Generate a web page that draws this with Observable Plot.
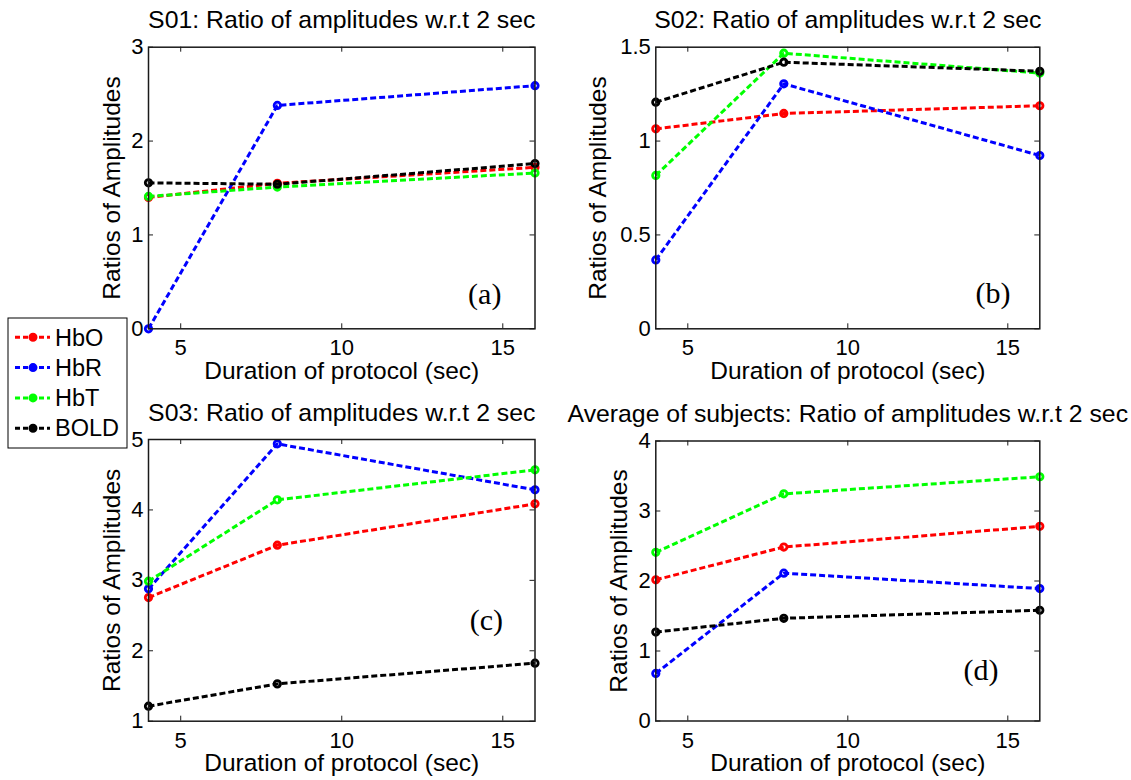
<!DOCTYPE html>
<html><head><meta charset="utf-8">
<script src="https://cdn.jsdelivr.net/npm/d3@7"></script>
<script src="https://cdn.jsdelivr.net/npm/@observablehq/plot@0.6"></script>
<style>
html,body{margin:0;padding:0;background:#fff;}
#chart{position:relative;width:1131px;height:780px;overflow:hidden;font-family:"Liberation Sans",Arial,sans-serif;}
#chart svg{position:absolute;}
</style></head><body><div id="chart"></div>
<script>
// ---- data ----
const durations = [4, 8, 16];
const seriesNames = ["HbO", "HbR", "HbT", "BOLD"];
const seriesColors = ["#ff0000", "#0000ff", "#00ff00", "#000000"];
const xTicks = [5, 10, 15];
// rows follow seriesNames order, columns follow durations
const s01Values = [[1.40, 1.55, 1.72], [0.00, 2.38, 2.59], [1.41, 1.51, 1.66], [1.555, 1.54, 1.76]];
const s02Values = [[1.065, 1.147, 1.188], [0.367, 1.305, 0.923], [0.817, 1.468, 1.362], [1.207, 1.420, 1.372]];
const s03Values = [[2.756, 3.499, 4.086], [2.879, 4.938, 4.285], [2.988, 4.143, 4.569], [1.213, 1.530, 1.824]];
const avgValues = [[2.017, 2.485, 2.781], [0.679, 2.112, 1.892], [2.409, 3.245, 3.489], [1.271, 1.467, 1.582]];
const panelTitles = [
  "S01: Ratio of amplitudes w.r.t 2 sec",
  "S02: Ratio of amplitudes w.r.t 2 sec",
  "S03: Ratio of amplitudes w.r.t 2 sec",
  "Average of subjects: Ratio of amplitudes w.r.t 2 sec"
];
const panelTags = ["(a)", "(b)", "(c)", "(d)"];
const yDomains = [[0, 3], [0, 1.5], [1, 5], [0, 4]];
const yTickValues = [[0, 1, 2, 3], [0, 0.5, 1, 1.5], [1, 2, 3, 4, 5], [0, 1, 2, 3, 4]];
const xLabel = "Duration of protocol (sec)";
const yLabel = "Ratios of Amplitudes";

// ---- layout (pixels) ----
const layouts = [
  {left: 0,   top: 0,   width: 560, height: 390, mL: 148,  mT: 46.7, mR: 25.5, mB: 61.7, yOff: 29,   tag: [14.44, 0.363]},
  {left: 560, top: 0,   width: 571, height: 390, mL: 95.3, mT: 46.7, mR: 91.7, mB: 61.7, yOff: 49.6, tag: [14.54, 0.19]},
  {left: 0,   top: 390, width: 560, height: 390, mL: 148,  mT: 49,   mR: 25.5, mB: 59.3, yOff: 29,   tag: [14.49, 2.43]},
  {left: 560, top: 390, width: 571, height: 390, mL: 95.3, mT: 50.5, mR: 91.7, mB: 59.5, yOff: 29,   tag: [14.16, 0.73]}
];
const allValues = [s01Values, s02Values, s03Values, avgValues];
const FONT = '"Liberation Sans", Arial, sans-serif';
const axisColor = "#1a1a1a";
const DASH = "6,3";

function makePanel(i) {
  const L = layouts[i];
  const values = allValues[i];
  const fw = L.width - L.mL - L.mR;
  const fh = L.height - L.mT - L.mB;
  const marks = [];
  // inward ticks
  marks.push(Plot.tickX(xTicks, {x: d => d, insetTop: fh - 5, stroke: axisColor}));
  marks.push(Plot.tickX(xTicks, {x: d => d, insetBottom: fh - 5, stroke: axisColor}));
  marks.push(Plot.tickY(yTickValues[i], {y: d => d, insetRight: fw - 5, stroke: axisColor}));
  marks.push(Plot.tickY(yTickValues[i], {y: d => d, insetLeft: fw - 5, stroke: axisColor}));
  marks.push(Plot.axisX({ticks: xTicks, tickSize: 0, tickPadding: 11, fontSize: 22, label: null, tickFormat: d => String(d)}));
  marks.push(Plot.axisY({ticks: yTickValues[i], tickSize: 0, tickPadding: 5, fontSize: 22, label: null, tickFormat: d => String(d)}));
  // series
  seriesNames.forEach((name, si) => {
    const rows = durations.map((d, di) => ({x: d, y: values[si][di]}));
    marks.push(Plot.line(rows, {x: "x", y: "y", stroke: seriesColors[si], strokeWidth: 3, strokeDasharray: DASH, strokeLinecap: "butt", strokeLinejoin: "miter"}));
    marks.push(Plot.dot(rows, {x: "x", y: "y", r: 3.2, stroke: seriesColors[si], strokeWidth: 2.8, fill: "none"}));
  });
  marks.push(Plot.frame({stroke: axisColor, strokeWidth: 1.5}));
  // texts
  marks.push(Plot.text([panelTitles[i]], {text: d => d, frameAnchor: "top", textAnchor: "middle", lineAnchor: "bottom", dy: -19, fontSize: 24.8, fill: "black"}));
  marks.push(Plot.text([xLabel], {text: d => d, frameAnchor: "bottom", textAnchor: "middle", lineAnchor: "bottom", dy: 50, fontSize: 24.5, fill: "black"}));
  marks.push(Plot.text([yLabel], {text: d => d, frameAnchor: "left", textAnchor: "middle", rotate: -90, lineAnchor: "bottom", dx: -L.yOff, fontSize: 24.5, fill: "black"}));
  marks.push(Plot.text([{x: L.tag[0], y: L.tag[1], t: panelTags[i]}], {x: "x", y: "y", text: "t", fontFamily: '"Liberation Serif", "Times New Roman", serif', fontSize: 30, fill: "black"}));

  const svg = Plot.plot({
    width: L.width, height: L.height,
    marginLeft: L.mL, marginTop: L.mT, marginRight: L.mR, marginBottom: L.mB,
    x: {domain: [4, 16]},
    y: {domain: yDomains[i]},
    style: {fontFamily: FONT, fontSize: "22px", background: "transparent", overflow: "visible", color: "black"},
    marks
  });
  // make sure the dashed pattern (with square dash ends) reaches every line path
  d3.select(svg).selectAll('g[aria-label="line"] path')
    .attr("stroke-dasharray", DASH).attr("stroke-linecap", "butt");
  svg.style.left = L.left + "px";
  svg.style.top = L.top + "px";
  document.getElementById("chart").appendChild(svg);
}
[0, 1, 2, 3].forEach(makePanel);

// ---- legend ----
const lg = d3.select("#chart").append("svg")
  .attr("width", 122).attr("height", 134)
  .style("left", "7px").style("top", "317px")
  .style("font-family", FONT);
lg.append("rect").attr("x", 1).attr("y", 1).attr("width", 119).attr("height", 130)
  .attr("fill", "white").attr("stroke", "black").attr("stroke-width", 1);
seriesNames.forEach((name, si) => {
  const cy = 20.3 + si * 30.3;
  lg.append("line").attr("x1", 8).attr("x2", 43).attr("y1", cy).attr("y2", cy)
    .attr("stroke", seriesColors[si]).attr("stroke-width", 3).attr("stroke-dasharray", "5,3");
  lg.append("circle").attr("cx", 26).attr("cy", cy).attr("r", 3.5)
    .attr("fill", seriesColors[si]).attr("stroke", seriesColors[si]).attr("stroke-width", 2);
  lg.append("text").attr("x", 48).attr("y", cy).attr("dy", "0.35em")
    .attr("font-size", 23.5).attr("fill", "black").text(name);
});
</script>
</body></html>
